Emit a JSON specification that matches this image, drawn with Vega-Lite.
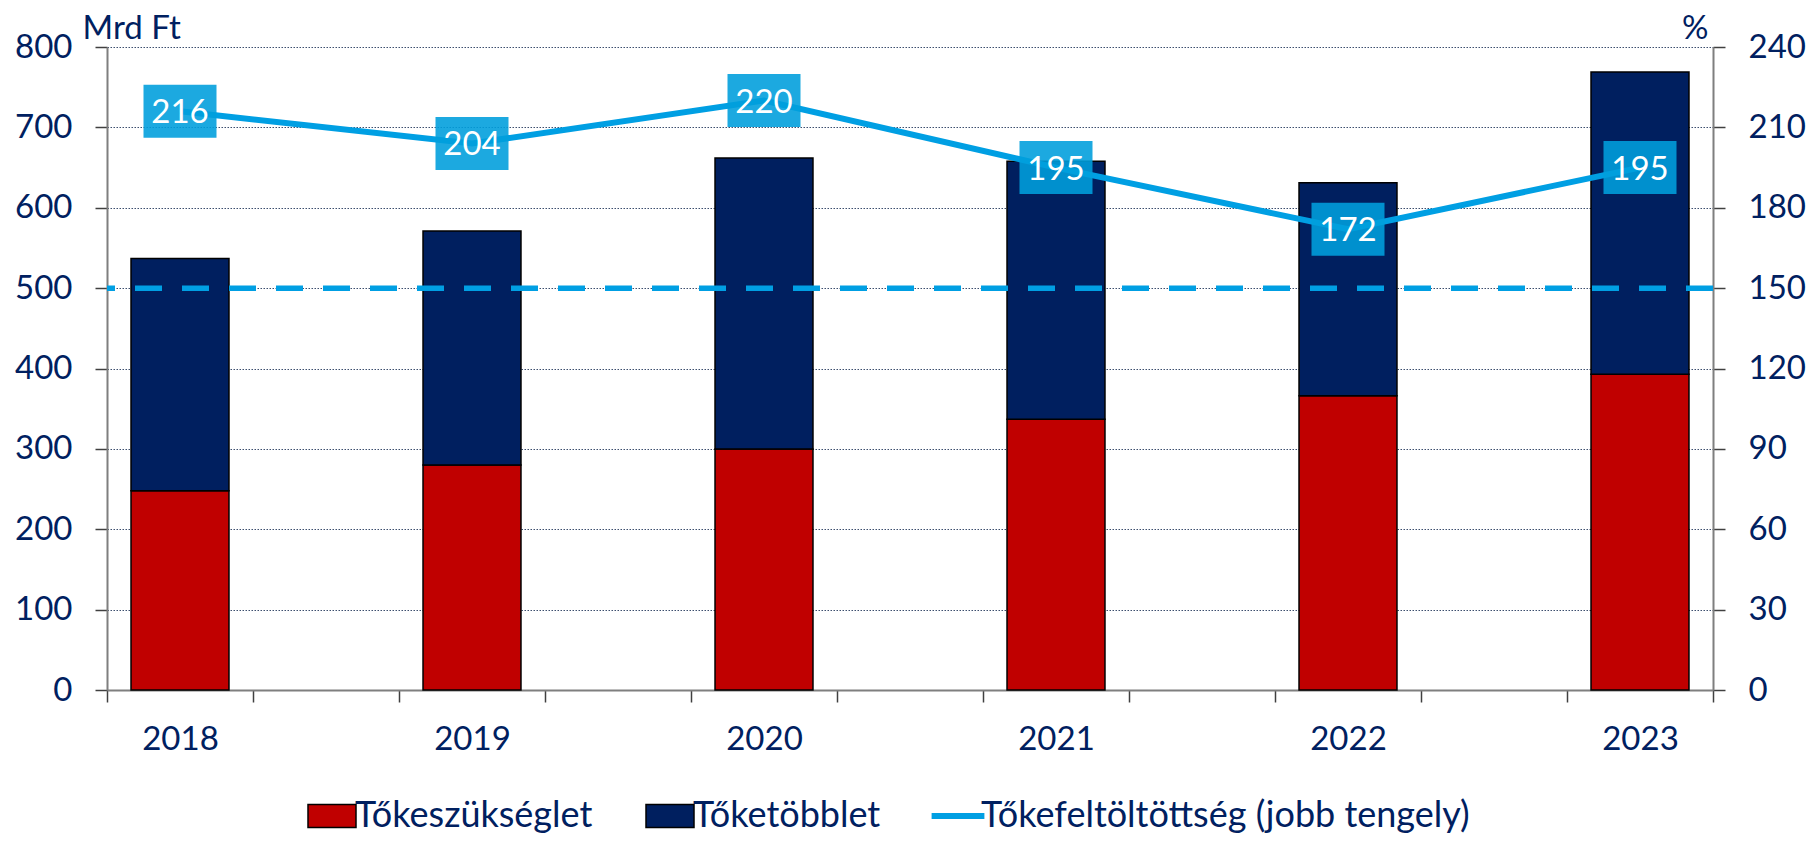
{
  "$schema": "https://vega.github.io/schema/vega-lite/v6.json",
  "width": 1606,
  "height": 643,
  "autosize": {"type": "none"},
  "padding": {"left": 107, "top": 47, "right": 98, "bottom": 151},
  "background": "white",
  "config": {
    "font": "Lato",
    "view": {"stroke": null},
    "axis": {"labelFont": "Lato", "titleFont": "Lato", "labelColor": "#002060", "titleColor": "#002060", "titleFontWeight": "normal"}
  },
  "datasets": {
    "bars": [
      {"year": "2018", "series": "Tőkeszükséglet", "value": 248},
      {"year": "2018", "series": "Tőketöbblet", "value": 289},
      {"year": "2019", "series": "Tőkeszükséglet", "value": 280},
      {"year": "2019", "series": "Tőketöbblet", "value": 291},
      {"year": "2020", "series": "Tőkeszükséglet", "value": 300},
      {"year": "2020", "series": "Tőketöbblet", "value": 362},
      {"year": "2021", "series": "Tőkeszükséglet", "value": 337},
      {"year": "2021", "series": "Tőketöbblet", "value": 321},
      {"year": "2022", "series": "Tőkeszükséglet", "value": 366},
      {"year": "2022", "series": "Tőketöbblet", "value": 265},
      {"year": "2023", "series": "Tőkeszükséglet", "value": 393},
      {"year": "2023", "series": "Tőketöbblet", "value": 376}
    ],
    "ratio": [
      {"year": "2018", "ratio": 216},
      {"year": "2019", "ratio": 204},
      {"year": "2020", "ratio": 220},
      {"year": "2021", "ratio": 195},
      {"year": "2022", "ratio": 172},
      {"year": "2023", "ratio": 195}
    ],
    "threshold": [{"threshold": 150}]
  },
  "layer": [
    {
      "data": {"name": "bars"},
      "mark": {"type": "bar", "stroke": "black", "strokeWidth": 1.5, "width": {"band": 0.671}},
      "encoding": {
        "x": {
          "field": "year", "type": "nominal",
          "scale": {"domain": ["2018", "x1", "2019", "x2", "2020", "x3", "2021", "x4", "2022", "x5", "2023"], "paddingInner": 0, "paddingOuter": 0},
          "axis": {
            "title": null, "labelAngle": 0, "labelExpr": "length(datum.label) == 4 ? datum.label : ''",
            "labelOverlap": false, "tickBand": "extent", "grid": false,
            "domainColor": "#7f7f7f", "domainWidth": 2, "tickColor": "#404040", "tickWidth": 1.5, "tickSize": 12,
            "labelFontSize": 33, "labelPadding": 21
          }
        },
        "y": {
          "field": "value", "type": "quantitative", "stack": "zero",
          "scale": {"domain": [0, 800], "nice": false, "zero": true},
          "axis": {
            "title": "Mrd Ft", "titleAngle": 0, "titleX": -25, "titleY": -9, "titleAlign": "left", "titleBaseline": "alphabetic", "titleFontSize": 33,
            "values": [0, 100, 200, 300, 400, 500, 600, 700, 800],
            "grid": true, "gridColor": "#3C4E6E", "gridDash": [1.5, 1.5], "gridWidth": 1,
            "domainColor": "#7f7f7f", "domainWidth": 2, "tickColor": "#404040", "tickWidth": 1.5, "tickSize": 12,
            "labelFontSize": 33, "labelPadding": 23
          }
        },
        "color": {
          "field": "series", "type": "nominal",
          "scale": {"domain": ["Tőkeszükséglet", "Tőketöbblet", "Tőkefeltöltöttség (jobb tengely)"], "range": ["#C00000", "#001F5F", "#009FE3"]},
          "legend": {
            "orient": "none", "legendX": 207, "legendY": 751, "direction": "horizontal", "title": null, "padding": 0,
            "symbolType": "M-1,-0.48H1V0.48H-1Z", "symbolSize": 2304, "symbolStrokeColor": "black", "symbolStrokeWidth": 1.5, "symbolOpacity": 1,
            "labelFont": "Lato", "labelFontSize": 36, "labelColor": "#002060", "labelOffset": 5, "columnPadding": 50, "labelLimit": 0,
            "encode": {
              "symbols": {
                "update": {
                  "shape": {"signal": "datum.value === 'Tőkefeltöltöttség (jobb tengely)' ? 'M-1.1,-0.12H1.1V0.12H-1.1Z' : 'M-1,-0.48H1V0.48H-1Z'"},
                  "strokeWidth": {"signal": "datum.value === 'Tőkefeltöltöttség (jobb tengely)' ? 0 : 1.5"}
                }
              }
            }
          }
        },
        "order": {"field": "series", "sort": "ascending"}
      }
    },
    {
      "layer": [
        {
          "data": {"name": "threshold"},
          "mark": {"type": "rule", "color": "#009FE3", "strokeWidth": 5.5, "strokeDash": [27, 20]},
          "encoding": {
            "y": {"field": "threshold", "type": "quantitative"}
          }
        },
        {
          "data": {"name": "ratio"},
          "mark": {"type": "line", "color": "#009FE3", "strokeWidth": 6},
          "encoding": {
            "x": {"field": "year", "type": "nominal",
              "scale": {"domain": ["2018", "x1", "2019", "x2", "2020", "x3", "2021", "x4", "2022", "x5", "2023"], "paddingInner": 0, "paddingOuter": 0}},
            "y": {
              "field": "ratio", "type": "quantitative",
              "scale": {"domain": [0, 240], "nice": false},
              "axis": {
                "orient": "right", "title": "%", "titleAngle": 0, "titleX": -5, "titleY": -9, "titleAlign": "right", "titleBaseline": "alphabetic", "titleFontSize": 33,
                "values": [0, 30, 60, 90, 120, 150, 180, 210, 240], "grid": false,
                "domainColor": "#7f7f7f", "domainWidth": 2, "tickColor": "#404040", "tickWidth": 1.5, "tickSize": 12,
                "labelFontSize": 33, "labelPadding": 23
              }
            }
          }
        },
        {
          "data": {"name": "ratio"},
          "mark": {"type": "point", "shape": "M-1,-0.726H1V0.726H-1Z", "size": 5329, "filled": true, "color": "#009EDC", "opacity": 0.89, "strokeWidth": 0},
          "encoding": {
            "x": {"field": "year", "type": "nominal",
              "scale": {"domain": ["2018", "x1", "2019", "x2", "2020", "x3", "2021", "x4", "2022", "x5", "2023"], "paddingInner": 0, "paddingOuter": 0}},
            "y": {"field": "ratio", "type": "quantitative"}
          }
        },
        {
          "data": {"name": "ratio"},
          "mark": {"type": "text", "color": "white", "font": "Lato", "fontSize": 33, "align": "center", "baseline": "alphabetic", "dy": 12},
          "encoding": {
            "x": {"field": "year", "type": "nominal",
              "scale": {"domain": ["2018", "x1", "2019", "x2", "2020", "x3", "2021", "x4", "2022", "x5", "2023"], "paddingInner": 0, "paddingOuter": 0}},
            "y": {"field": "ratio", "type": "quantitative"},
            "text": {"field": "ratio", "type": "quantitative"}
          }
        }
      ]
    }
  ],
  "resolve": {"scale": {"y": "independent"}}
}
